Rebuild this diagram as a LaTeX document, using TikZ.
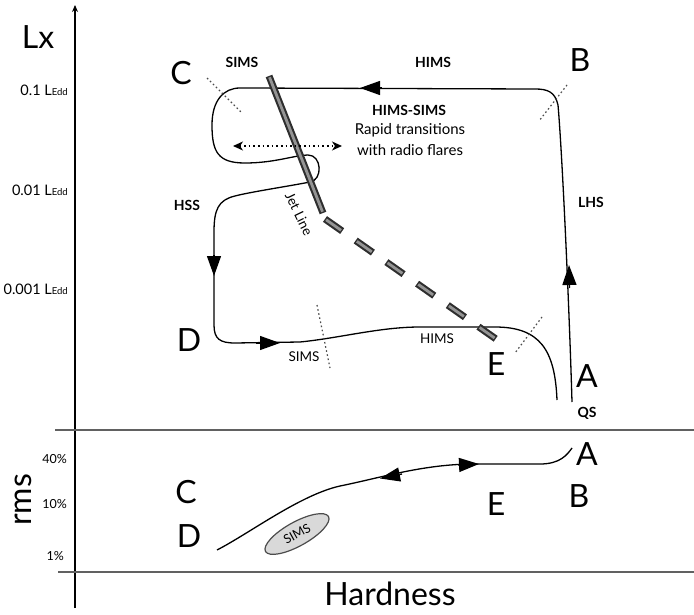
\documentclass[tikz,border=0pt]{standalone}
\usepackage{fontspec}
\setmainfont{Lato}
\usetikzlibrary{arrows.meta,shapes.geometric}

\tikzset{
  axisline/.style={line width=1.2pt, black},
  panelrule/.style={line width=2pt, black!62},
  track/.style={line width=1.3pt, black},
  tip/.style={-{Triangle[length=20pt,width=14pt]}, line width=1.3pt, black},
  stateline/.style={line width=1.2pt, black!70, dash pattern=on 1.6pt off 2.6pt},
  jetouter/.style={line width=7pt, black!82},
  jetinner/.style={line width=2.8pt, black!42},
  bigletter/.style={font=\fontsize{32}{32}\selectfont, inner sep=0pt},
  statelabel/.style={font=\bfseries\fontsize{14}{14}\selectfont, inner sep=0pt},
  thinlabel/.style={font=\fontsize{13.5}{13.5}\selectfont, inner sep=0pt},
  notelabel/.style={font=\fontsize{15}{15}\selectfont, inner sep=0pt},
  ticklabel/.style={font=\fontsize{14.5}{14.5}\selectfont, inner sep=0pt, anchor=base east},
  pctlabel/.style={font=\fontsize{12.5}{12.5}\selectfont, inner sep=0pt, anchor=base east},
  axistitle/.style={font=\fontsize{32}{32}\selectfont, inner sep=0pt}
}
\newcommand{\edd}{{\fontsize{9.5}{9.5}\selectfont Edd}}

\begin{document}
\begin{tikzpicture}[x=1pt,y=-1pt]
\useasboundingbox (0,0) rectangle (694,615);

% axes and panel rules
\coordinate (ax0) at (75,608);
\coordinate (ax1) at (75,5);
\draw[axisline,-{Stealth[length=7pt,width=6pt]}] (ax0) -- (ax1);
\coordinate (r1a) at (55,430);  \coordinate (r1b) at (694,430);
\coordinate (r2a) at (58,572);  \coordinate (r2b) at (694,572);
\draw[panelrule] (r1a) -- (r1b);
\draw[panelrule] (r2a) -- (r2b);

% axis titles and ticks
\node[axistitle] (lx) at (38,37) {Lx};
\node[axistitle, rotate=90] (rms) at (23,500) {rms};
\node[axistitle] (hard) at (390,594) {Hardness};
\node[ticklabel] (t1) at (68,96) {0.1 L\edd};
\node[ticklabel] (t2) at (68,196) {0.01 L\edd};
\node[ticklabel] (t3) at (68,294) {0.001 L\edd};
\node[pctlabel] (p40) at (67,463) {40\%};
\node[pctlabel] (p10) at (67,508) {10\%};
\node[pctlabel] (p1) at (64,560) {1\%};

% hysteresis track in the upper panel
\coordinate (qA) at (572,402);
\coordinate (qE) at (557,400);
\draw[track] (qA) .. controls (569,300) and (562,150) .. (558,105)
  .. controls (555,92) and (548,89) .. (535,89) -- (240,88)
  .. controls (224,88) and (212,100) .. (212,125)
  .. controls (212,152) and (218,163) .. (245,163)
  .. controls (275,163) and (295,155) .. (308,155)
  .. controls (322,155) and (323,180) .. (310,182)
  .. controls (290,186) and (250,192) .. (235,196)
  .. controls (218,200) and (214,210) .. (214,232) -- (214,325)
  .. controls (214,339) and (220,343) .. (235,343) -- (300,342)
  .. controls (340,338) and (380,327) .. (420,327) -- (495,327)
  .. controls (540,327) and (555,350) .. (qE);

% direction arrows on the track
\coordinate (aB0) at (382,88);  \coordinate (aB1) at (360,88);
\coordinate (aU0) at (569.5,288); \coordinate (aU1) at (569,265);
\coordinate (aH0) at (214,255); \coordinate (aH1) at (214,276);
\coordinate (aD0) at (256,343); \coordinate (aD1) at (280,343);
\draw[tip] (aB0) -- (aB1);
\draw[tip] (aU0) -- (aU1);
\draw[tip] (aH0) -- (aH1);
\draw[tip] (aD0) -- (aD1);

% jet line: solid part, then dashed part, laid over the track
\coordinate (j0) at (269,76);
\coordinate (j1) at (323,213);
\coordinate (j2) at (325,219);
\coordinate (j3) at (496,339);
\draw[jetouter] (j0) -- (j1);
\draw[jetinner, shorten <=1.4pt, shorten >=1.4pt] (j0) -- (j1);
\draw[jetouter, dash pattern=on 21pt off 16.5pt] (j2) -- (j3);
\draw[jetinner, dash pattern=on 18.2pt off 19.3pt, dash phase=36.1pt] (j2) -- (j3);

% state boundaries
\coordinate (sC0) at (207,78);  \coordinate (sC1) at (242,113);
\coordinate (sB0) at (567,85);  \coordinate (sB1) at (539,121);
\coordinate (sD0) at (317,305); \coordinate (sD1) at (330,368);
\coordinate (sE0) at (542,317); \coordinate (sE1) at (515,353);
\draw[stateline] (sC0) -- (sC1);
\draw[stateline] (sB0) -- (sB1);
\draw[stateline] (sD0) -- (sD1);
\draw[stateline] (sE0) -- (sE1);

% rapid back-and-forth transitions
\coordinate (f0) at (233,146);
\coordinate (f1) at (342,146);
\draw[line width=1.3pt, dash pattern=on 1.6pt off 3pt,
  {Stealth[length=10pt,width=9pt,inset=3pt]}-{Stealth[length=10pt,width=9pt,inset=3pt]}] (f0) -- (f1);

% labels of the upper panel
\node[bigletter] (C) at (181,73) {C};
\node[bigletter] (B) at (580,60) {B};
\node[bigletter] (D) at (189,340) {D};
\node[bigletter] (E) at (496,364) {E};
\node[bigletter] (A) at (587,376) {A};
\node[statelabel] (lsims) at (242,62) {SIMS};
\node[statelabel] (lhims) at (433,62) {HIMS};
\node[statelabel] (lhs) at (409,110) {HIMS-SIMS};
\node[notelabel] (n1) at (410,130) {Rapid transitions};
\node[notelabel] (n2) at (410,150) {with radio flares};
\node[statelabel] (llhs) at (591,202) {LHS};
\node[statelabel] (lhss) at (187,205) {HSS};
\node[statelabel] (lqs) at (587,413) {QS};
\node[thinlabel] (lsims2) at (304,357) {SIMS};
\node[thinlabel] (lhims2) at (437,339) {HIMS};
\node[thinlabel, rotate=-64] (jet) at (299,214) {Jet Line};

% rms versus hardness in the lower panel
\coordinate (r0) at (217,550);
\coordinate (r1) at (572,448);
\draw[track] (r0) .. controls (250,533) and (300,495) .. (340,486)
  .. controls (380,478) and (420,465) .. (470,464) -- (540,464)
  .. controls (560,464) and (567,455) .. (r1);
\coordinate (bL0) at (402,474); \coordinate (bL1) at (380,478.5);
\coordinate (bR0) at (458,465); \coordinate (bR1) at (479,464);
\draw[tip] (bL0) -- (bL1);
\draw[tip] (bR0) -- (bR1);

\node[ellipse, draw=black!70, line width=1.2pt, fill=black!15,
  minimum width=72pt, minimum height=24pt, inner sep=0pt,
  rotate=29, font=\fontsize{12.5}{12.5}\selectfont] (simsbox) at (297,534) {SIMS};

\node[bigletter] (C2) at (186,492) {C};
\node[bigletter] (D2) at (189,536) {D};
\node[bigletter] (E2) at (496,504) {E};
\node[bigletter] (B2) at (579,496) {B};
\node[bigletter] (A2) at (587,454) {A};
\end{tikzpicture}
\end{document}
